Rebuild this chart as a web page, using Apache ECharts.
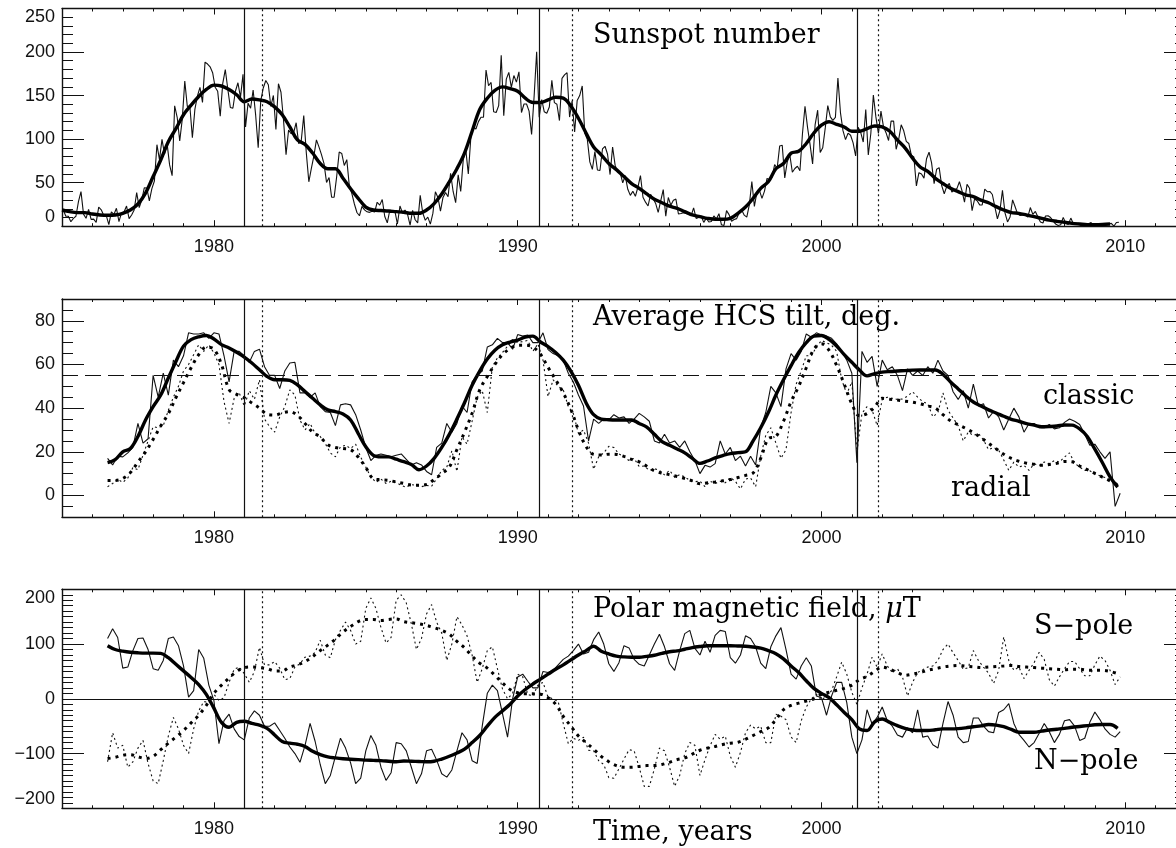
<!DOCTYPE html>
<html>
<head>
<meta charset="utf-8">
<script src="https://cdn.jsdelivr.net/npm/echarts@6.0.0/dist/echarts.min.js"></script>
<style>
html, body { margin: 0; padding: 0; background: #fff; }
#main { width: 1176px; height: 848px; }
</style>
</head>
<body>
<div id="main"></div>
<script>
// monthly sunspot number, Jan 1975 .. Oct 2009
let sunspotMonthly = [
    18.9, 11.5, 11.5, 5.1, 9.0, 11.4, 28.2, 39.7, 13.9, 9.1, 19.4, 7.8,
    8.1, 4.3, 21.9, 18.8, 12.4, 12.2, 1.9, 16.4, 13.5, 20.6, 5.2, 15.3,
    16.4, 23.1, 8.7, 12.9, 18.6, 38.5, 21.4, 30.1, 44.0, 43.8, 29.1, 43.2,
    51.9, 93.6, 76.5, 99.7, 82.7, 95.1, 70.4, 58.1, 138.2, 125.1, 97.9, 122.7,
    166.6, 137.5, 138.0, 101.5, 134.4, 149.5, 159.4, 142.2, 188.4, 186.2, 183.0, 176.3,
    159.6, 155.0, 126.2, 164.1, 179.9, 157.3, 136.3, 135.4, 155.0, 164.7, 147.9, 174.4,
    114.0, 141.3, 135.5, 156.4, 127.5, 90.0, 143.8, 158.7, 167.3, 162.4, 137.5, 150.1,
    111.2, 163.6, 153.8, 122.0, 82.2, 110.4, 106.1, 107.6, 118.8, 94.7, 98.1, 127.0,
    84.3, 51.0, 66.5, 80.7, 99.2, 91.1, 82.2, 71.8, 50.3, 55.8, 33.3, 33.4,
    57.0, 85.1, 83.5, 69.7, 76.4, 46.1, 37.4, 25.5, 15.7, 12.0, 22.8, 18.7,
    16.5, 15.9, 17.2, 16.2, 27.5, 24.2, 30.7, 11.1, 3.9, 18.6, 16.2, 17.3,
    2.5, 23.2, 15.1, 18.5, 13.7, 1.1, 18.1, 7.4, 3.8, 35.4, 15.2, 6.8,
    10.4, 2.4, 14.7, 39.6, 33.0, 17.4, 33.0, 38.7, 33.9, 60.6, 39.9, 27.1,
    59.0, 40.0, 76.2, 88.0, 60.1, 101.8, 113.8, 111.6, 120.1, 125.1, 125.1, 179.2,
    161.3, 165.1, 131.4, 130.6, 138.5, 196.2, 126.9, 168.9, 176.7, 159.4, 173.0, 165.5,
    177.3, 130.5, 140.3, 140.3, 132.2, 105.4, 149.4, 200.3, 125.2, 145.5, 131.4, 129.7,
    136.9, 167.5, 141.9, 140.0, 121.3, 169.7, 173.7, 176.3, 125.3, 144.1, 108.2, 144.4,
    150.0, 161.1, 106.7, 99.8, 73.8, 65.2, 85.7, 64.5, 63.9, 88.7, 91.8, 82.6,
    59.3, 91.0, 69.8, 62.2, 61.3, 49.8, 57.9, 42.4, 35.4, 40.2, 34.3, 45.0,
    58.2, 33.3, 27.6, 23.2, 36.5, 31.9, 26.1, 15.8, 29.2, 42.0, 11.5, 33.0,
    24.2, 29.9, 31.1, 14.0, 14.5, 15.6, 14.5, 14.3, 11.8, 21.1, 9.0, 10.0,
    11.5, 4.4, 9.2, 4.8, 5.5, 11.8, 8.2, 14.4, 1.6, 0.9, 17.9, 13.3,
    5.7, 7.6, 8.7, 15.5, 18.5, 12.7, 10.4, 24.4, 51.3, 22.8, 39.0, 41.2,
    31.9, 40.3, 54.8, 53.4, 56.3, 70.7, 66.6, 92.2, 92.9, 55.5, 74.0, 81.9,
    62.0, 66.3, 68.8, 63.7, 106.4, 137.7, 113.5, 93.7, 71.5, 116.7, 133.2, 84.6,
    90.1, 112.9, 138.5, 125.5, 121.6, 124.9, 170.1, 130.5, 109.7, 99.4, 106.8, 104.4,
    95.6, 80.6, 113.5, 107.7, 96.6, 134.0, 81.8, 106.4, 150.7, 125.5, 106.5, 132.2,
    114.1, 107.4, 98.4, 120.7, 120.8, 88.3, 99.6, 116.4, 109.6, 97.5, 95.0, 81.6,
    79.5, 46.2, 61.5, 60.0, 55.2, 77.4, 85.0, 72.7, 48.8, 65.5, 67.3, 46.5,
    37.3, 45.8, 49.1, 39.3, 41.5, 43.2, 51.1, 40.9, 27.7, 48.0, 43.5, 17.9,
    31.3, 29.2, 24.5, 24.4, 42.6, 39.6, 39.9, 36.4, 22.1, 8.5, 18.0, 41.2,
    15.3, 4.9, 10.6, 30.2, 22.3, 13.9, 12.2, 12.9, 14.4, 10.5, 21.4, 13.6,
    16.9, 10.6, 4.8, 3.7, 11.7, 12.0, 10.0, 6.2, 2.4, 0.9, 1.7, 10.1,
    3.3, 2.1, 9.3, 2.9, 3.2, 3.4, 0.8, 0.5, 1.1, 2.9, 4.1, 0.8,
    1.5, 1.4, 0.7, 1.2, 2.9, 2.9, 3.2, 0.0, 4.2, 4.6
];
// smoothed sunspot number, every quarter from 1975.0
let sunspotSmooth = [
    18.6, 16.7, 15.6, 15.6, 14, 12.9, 12.5, 12.9, 14.8, 18.6, 25.5, 38, 57, 76, 97, 112,
    128, 139, 149, 157, 162, 161, 157, 151, 143, 146, 145, 143, 137, 128, 114, 99,
    94, 84, 72, 66, 66, 55, 43, 32, 22, 18.6, 18, 17.5, 16.7, 16, 14.8, 14.8,
    18.6, 26, 37, 51, 66, 84, 109, 134, 147, 156, 160, 158, 155, 147, 142, 142,
    145, 148, 147, 138, 124, 107, 91, 82, 72, 65, 57, 49, 43.5, 37, 31, 27,
    23, 20.5, 16.7, 12.9, 11, 9, 7.9, 7.9, 9, 14.8, 22, 32, 43.5, 51, 66, 72,
    84, 86, 95, 107, 116, 120, 117, 114, 109, 109, 112, 115, 114, 109, 99, 90,
    78, 68, 63, 55, 49, 43.5, 39.7, 36, 34, 30, 27, 22.5, 18.6, 15.6, 14.8, 12.9,
    11, 9, 7, 5.6, 4.5, 3.3, 2.5, 1.8, 1.8, 2, 2.5
];

// HCS tilt (deg), every two months from 1976.5
let tiltClassic = [
    17, 14, 18, 17.7, 19.5, 22, 33, 24, 26, 55, 45, 56, 46, 62, 59, 64, 74.5, 74, 74, 74.5,
    72, 74.5, 74, 64, 52, 66, 66, 64, 61, 66, 67, 59, 55, 55, 49, 57, 60.7, 61, 47, 47,
    45, 47, 40.7, 38.4, 38, 32, 41.5, 42, 41.5, 37, 30, 22, 16, 18.4, 19, 18.4, 17.7, 18.4,
    19, 16.5, 14, 15, 14, 11, 9.5, 22, 24, 33, 29, 33, 41, 38, 52, 55, 57, 68, 69, 72,
    70, 70, 67, 73.7, 73, 73.5, 70, 70, 74.5, 66.8, 65, 64, 62, 56, 52, 46, 41, 25, 35, 33,
    35, 34.6, 37, 35.5, 36, 33, 35, 37.6, 36, 34, 25, 24, 28, 24, 25, 22, 25, 20, 16, 10,
    13.8, 13, 14.6, 25, 19, 22, 16, 18, 13.5, 18, 14, 31, 38, 50, 47,
    40.7, 58, 65, 62, 66, 74, 72.5, 74.5, 73.5, 73, 72, 69.5, 66, 62, 56, 15, 66, 61, 63.7, 50,
    62, 57.6, 59, 55, 48, 58, 55, 57, 55, 59, 56, 62, 57, 55, 47.5, 44, 48, 40, 51, 41,
    42, 35.5, 38.5, 36, 30, 35, 40, 36, 29, 33, 33, 31, 31, 32.5, 30.5, 31, 33.5, 35, 34, 32.5,
    28, 23, 23.5, 20, 17, 20, -5, 1
];
let tiltRadial = [
    4, 5.5, 7.5, 6, 8, 12.8, 11.8, 18.5, 25, 31.5, 31, 32, 39, 45, 50, 57, 60, 64.5, 69, 66,
    69, 65.3, 60, 43, 33, 44.5, 47, 41, 48, 44, 53, 35, 31.5, 29, 36, 40.7, 48.4, 46, 34.6, 30,
    33, 28.4, 27, 23.8, 19.5, 17.7, 22.3, 23, 21.5, 23.5, 17.5, 13, 8.5, 6, 7.5, 5.5, 6.5, 6,
    4.6, 3.8, 5, 4.6, 4, 4.6, 4.2, 7.7, 11.5, 13, 20.5, 11, 26.9, 23.5, 34, 45, 48, 38, 59, 63,
    65.5, 68.4, 71.4, 70, 70.5, 71, 66, 69.5, 62, 45.3, 53, 50, 48.4, 40.7, 37.5, 28.4, 30, 24, 12, 17.7,
    19.5, 22.5, 22, 19, 17.7, 16, 17, 13.2, 13.5, 11.5, 12.3, 11.5, 9.4, 11.5, 8.4, 9.5, 8.5, 6.9, 6.3, 6.6,
    4, 6.5, 5.5, 6.5, 5.8, 8.2, 6.5, 3, 7.5, 8, 4, 18, 27.5, 31, 24,
    17, 21, 38, 51, 57, 64, 64, 68, 71, 70, 68.8, 66, 53, 46.5, 52, 20, 37.6, 40.7, 39.2, 32,
    44, 45, 44.5, 44, 44.2, 45.5, 47.5, 45, 43, 42, 36, 38, 47, 39, 35.5, 32, 25, 29, 27.5, 28.4,
    25.5, 21, 22, 20.7, 16.3, 11.5, 15.3, 13, 13.8, 11.5, 14.5, 13.8, 15.3, 14.6, 16, 15.3, 17.6, 19.5, 14.8, 13,
    11.5, 11.3, 10, 9, 8.2, 6.9, 5.5, 4.5
];
// smoothed tilts, every quarter from 1976.5
let tiltClassicSmooth = [
    15, 16.4, 20, 21.5, 27, 34.6, 40.7, 46, 53.8, 61.4, 68.4, 71.4, 72.7, 73.3, 71.7, 69.1, 67.6, 65.6, 63.4, 60.7,
    57.6, 54.5, 53, 53, 52.7, 50.7, 47.6, 44.5, 41.5, 39.2, 38.4, 37.3, 34.6, 28.4, 22.3, 18.4, 17.7, 17.7, 16.6,
    15.5, 14.2, 11.8, 13.5, 17, 22, 28, 35, 42.5, 50.5, 57, 62.5, 66.5, 69, 70.3, 71.2, 72.5, 73, 70.3, 68.2,
    65.5, 62, 57, 50.5, 42.5, 37, 35, 34.7, 34.6, 34.6, 34.6, 33, 31.3, 28, 24.7, 23, 21.3, 19.5, 17, 14.7,
    15.8, 17.2, 18.3, 19.2, 19.6, 20, 25, 31, 38, 46,
    53, 59.5, 65.5, 70, 73, 73.3, 71.5, 68.5, 64.5, 61, 57.5, 54.8, 55.8, 56.5, 56.8, 57, 57.2, 57.4, 57.5, 57.5,
    57.5, 55.5, 52, 48.8, 45.6, 42.8, 41, 39.2, 37.8, 36.3, 34.9, 34, 32.9, 32.2, 31.5, 31.6, 31.8, 32.3, 32.2, 30.5,
    27, 21.2, 15, 8.5, 3.8
];
let tiltRadialSmooth = [
    6.9, 6.9, 7.8, 10.5, 15.3, 20, 25.7, 31.8, 37.5, 44.8, 51.7, 58.5, 64.5, 68, 67, 60, 48.5, 46.3, 44.7, 42.4,
    40, 37.2, 36.8, 37.8, 38.4, 36.7, 33, 29, 26.8, 23.2, 22, 21.5, 21, 17.6, 12.8, 7.7, 7.2, 6.9, 6.2,
    5.5, 4.8, 4.7, 5, 7.3, 10, 13, 21, 29, 37.7, 48.4, 54.5, 60, 64.5, 67.3, 68.8, 68.8, 68, 64.7, 58.7,
    53, 47, 39.5, 30, 22.5, 18.8, 18.5, 18.9, 18.8, 17.9, 16.5, 15.4, 13.4, 11.3, 10.2, 9.5, 8.7, 7.8, 6.7, 5.4,
    5.8, 6.2, 6.7, 7.3, 8.2, 9.2, 10.3, 17, 26, 27,
    34, 43, 50, 58.5, 67, 69.5, 66.5, 59.5, 51, 42, 36.5, 37.5, 40.5, 44.5, 44.1, 43.7, 43.2, 42.7, 42, 41,
    40, 37, 34.2, 32.4, 30.7, 28.8, 26.5, 23.9, 21.4, 18.9, 17, 15.7, 14.8, 14.3, 13.8, 14.2, 14.7, 15.6, 15.4, 13.5,
    11.8, 10.1, 8.4, 6.7, 4.8
];

// polar field (microtesla), every two months from 1976.5
let northPole = [
    110, 128, 112, 56, 58, 88, 110, 111, 90, 55, 52, 70, 110, 113, 97, 60, 3, 15, 90, 74,
    25, -3, -82, -40, -28, -55, -69, -75, -35, -22, -30, -50, -50, -44, -58, -72, -88, -100, -116, -85,
    -45, -78, -120, -155, -140, -105, -72, -90, -117, -155, -145, -95, -67, -85, -125, -149, -135, -80,
    -82, -95, -125, -155, -137, -95, -92, -112, -137, -143, -130, -95, -62, -75, -113, -118, -50, 10, 25, 15,
    -27, -70, 0, 40, 45, 32, 20, 20, 50, 48, 52, 62, 72, 78, 88, 100, 82, 85, 108, 122,
    100, 64, 50, 66, 97, 93, 72, 63, 60, 80, 100, 118, 95, 64, 52, 88, 119, 125, 92, 80,
    105, 85, 116, 125, 123, 75, 65, 80, 115, 110, 95, 65, 55, 95, 115,
    130, 90, 45, 36, 60, 75, 60, 5, 2, -30, 5, 30, 30, -7, -70, -100, -75, -20, -46, -34,
    -15, -40, -50, -66, -70, -53, -62, -20, -70, -68, -84, -90, -45, -5, -30, -70, -80, -78, -35, -35,
    -50, -60, -62, -25, -20, -9, -45, -65, -76, -88, -80, -63, -45, -60, -80, -65, -40, -38, -50, -76,
    -72, -43, -24, -38, -55, -65, -70, -60
];
let southPole = [
    -115, -62, -90, -85, -125, -115, -90, -76, -118, -150, -155, -113, -68, -34, -55, -85, -100, -55, -22, -5,
    -7, 8, -3, 2, 30, 54, 58, 46, 30, 50, 94, 62, 62, 68, 56, 35, 37, 58, 64, 76,
    78, 85, 107, 80, 75, 108, 125, 140, 125, 100, 105, 165, 184, 165, 130, 102, 112, 180,
    190, 175, 137, 90, 110, 155, 172, 140, 120, 70, 100, 150, 135, 115, 80, 30, 55, 88, 95, 55,
    18, 0, 10, 45, 40, 8, 5, 25, 30, 3, 0, -5, -45, -82, -72, -76, -70, -94, -95, -113,
    -120, -144, -145, -128, -110, -93, -95, -125, -160, -160, -128, -90, -95, -125, -160, -140, -100, -80, -85, -140,
    -111, -86, -65, -74, -68, -105, -125, -98, -62, -48, -55, -50, -80, -80, -28,
    -32, -38, -70, -80, -40, -15, 0, 8, -2, 5, 15, 40, 67, 45, 12, -10, 20, 45, 76, 58,
    82, 60, 48, 55, 40, 5, 30, 48, 53, 58, 60, 70, 90, 100, 84, 70, 54, 57, 88, 70,
    58, 47, 28, 52, 113, 70, 52, 58, 37, 52, 66, 85, 72, 35, 23, 40, 55, 68, 68, 55,
    42, 42, 62, 78, 70, 52, 26, 40
];
// smoothed polar fields, every quarter from 1976.5
let northSmooth = [
    97, 90, 87, 85, 84, 83.5, 83.5, 83, 75, 63, 51, 39, 26, 8, -17, -43, -52, -43, -41, -45,
    -48, -54, -66, -78, -81, -83, -87, -96, -102, -106, -108, -109.5, -110.5, -111, -112, -112.5, -113, -114, -115,
    -113.5, -114, -114.5, -115, -114, -110, -105, -99, -92, -80, -67, -50, -34, -22, -10, 5, 17, 27, 36, 45,
    54, 62, 71, 80, 88, 96, 87, 82, 78, 76.5, 76, 76, 77.5, 79.5, 83, 86, 87.5, 90.5, 93.5, 95.5,
    97, 97, 97, 97, 96.5, 96, 94.5, 92.5, 88, 82.5,
    73, 60, 48, 33, 19, 10, 2, -11, -25, -38, -55, -58, -42, -37, -43, -49, -54, -57, -58, -58,
    -56.5, -55, -55, -54.5, -53, -51, -49.5, -47, -48, -51, -56, -61, -61, -61, -59, -57, -55.5, -54, -52, -50.5,
    -49, -47.5, -47, -47, -54
];
let southSmooth = [
    -109, -107, -103, -102, -106, -109, -105, -93, -81, -70, -58, -44, -30, -12, 10, 25, 38, 50, 57, 58,
    57, 55, 51, 51, 58, 62, 68, 77, 88, 98, 109, 122, 132, 141, 145, 145, 143, 145, 146,
    141, 139, 137, 134, 130, 125, 118, 105, 93, 78, 65, 56, 43, 29, 17, 11, 9, 9, 8.5, 2,
    -10, -32, -50, -68, -80, -92, -105, -115, -122, -125, -125, -123.5, -122, -122, -120, -116, -111, -108, -101, -94,
    -90, -87, -83.5, -81, -79.5, -74, -67, -60, -53, -38,
    -20, -12, -8, -4, 0, 8, 12, 15.5, 19, 25, 35, 41, 50, 58, 54, 48, 43, 45, 48, 52,
    55, 58, 60, 61, 59.5, 58.5, 57, 58, 59, 60, 61, 59, 58, 57, 56, 55, 54, 53, 54, 54,
    52.5, 52, 52, 50, 46
];

let reversalSolid = [1981.0, 1990.72, 2001.17];
let reversalDotted = [1981.59, 1991.81, 2001.88];
let decadeTicks = [1980, 1990, 2000, 2010];
let yMajor = [[0, 50, 100, 150, 200, 250], [0, 20, 40, 60, 80], [-200, -100, 0, 100, 200]];
let yRange = [[0, 250, 10], [-10, 90, 5], [-200, 200, 10]];

function stamp(values, start, step) {
    return values.map(function (v, i) { return [start + i * step, v]; });
}

// the frame runs past the right edge of the picture (x max 2012 is cropped)
let gridBoxes = [
    {left: 62, top: 8.5, width: 1124, height: 217.7, outerBoundsMode: 'none', containLabel: false},
    {left: 62, top: 299, width: 1124, height: 218.3, outerBoundsMode: 'none', containLabel: false},
    {left: 62, top: 589.3, width: 1124, height: 219, outerBoundsMode: 'none', containLabel: false}
];

let ink = '#111';
let tickFont = {fontFamily: 'Liberation Sans', fontSize: 18, color: ink};

function xAxesFor(g) {
    let base = {type: 'value', gridIndex: g, min: 1975, max: 2012, splitLine: {show: false}};
    let line = {show: true, onZero: false, lineStyle: {color: ink, width: 1.4}};
    return [
        Object.assign({}, base, {position: 'bottom', interval: 1, axisLine: line,
            axisTick: {inside: true, length: 3, lineStyle: {color: ink}},
            axisLabel: Object.assign({margin: 12, formatter: function (v) { return v % 10 === 0 ? String(v) : ''; }}, tickFont)}),
        Object.assign({}, base, {position: 'bottom', axisLine: {show: false, onZero: false},
            axisTick: {inside: true, length: 6, customValues: decadeTicks, lineStyle: {color: ink}},
            axisLabel: {show: false}}),
        Object.assign({}, base, {position: 'top', interval: 1, axisLine: line,
            axisTick: {inside: true, length: 3, lineStyle: {color: ink}}, axisLabel: {show: false}}),
        Object.assign({}, base, {position: 'top', axisLine: {show: false, onZero: false},
            axisTick: {inside: true, length: 6, customValues: decadeTicks, lineStyle: {color: ink}},
            axisLabel: {show: false}})
    ];
}

function yAxesFor(g) {
    let r = yRange[g];
    let base = {type: 'value', gridIndex: g, min: r[0], max: r[1], splitLine: {show: false}};
    let line = {show: true, onZero: false, lineStyle: {color: ink, width: 1.4}};
    let label = Object.assign({
        margin: 7,
        customValues: yMajor[g],
        formatter: function (v) { return v < 0 ? '\u2212' + (-v) : String(v); }
    }, tickFont);
    if (g !== 1) {
        label.verticalAlignMinLabel = 'bottom';
        label.verticalAlignMaxLabel = 'top';
    }
    return [
        Object.assign({}, base, {position: 'left', interval: r[2], axisLine: line,
            axisTick: {inside: true, length: 11, lineStyle: {color: ink}}, axisLabel: {show: false}}),
        Object.assign({}, base, {position: 'left', axisLine: {show: false, onZero: false},
            axisTick: {inside: true, length: 22, customValues: yMajor[g], lineStyle: {color: ink}},
            axisLabel: label}),
        Object.assign({}, base, {position: 'right', interval: r[2], axisLine: line,
            axisTick: {inside: true, length: 11, lineStyle: {color: ink}}, axisLabel: {show: false}}),
        Object.assign({}, base, {position: 'right', axisLine: {show: false, onZero: false},
            axisTick: {inside: true, length: 22, customValues: yMajor[g], lineStyle: {color: ink}},
            axisLabel: {show: false}})
    ];
}

function curve(data, g, width, dash, smooth) {
    return {
        type: 'line', xAxisIndex: 4 * g, yAxisIndex: 4 * g, data: data,
        showSymbol: false, symbol: 'none', smooth: smooth ? 0.35 : false, silent: true,
        lineStyle: {color: smooth ? '#000' : ink, width: width, type: dash || 'solid', cap: 'butt'}
    };
}

function markers(extra) {
    let lines = reversalSolid.map(function (x) { return {xAxis: x, lineStyle: {type: 'solid'}}; })
        .concat(reversalDotted.map(function (x) { return {xAxis: x, lineStyle: {type: [2, 3]}}; }))
        .concat(extra || []);
    return {symbol: ['none', 'none'], silent: true, label: {show: false},
        lineStyle: {color: ink, width: 1.2}, data: lines};
}

let thinDot = [2, 3];
let thickDot = [3, 5];

let s = [];
let p1 = curve(stamp(sunspotMonthly, 1975 + 1 / 24, 1 / 12), 0, 1.1);
p1.markLine = markers();
s.push(p1, curve(stamp(sunspotSmooth, 1975, 0.25), 0, 3.4, null, true));

let p2 = curve(stamp(tiltClassic, 1976.5, 1 / 6), 1, 1.1);
p2.markLine = markers([{yAxis: 55, lineStyle: {type: [16, 7], width: 1.2}}]);
s.push(p2,
    curve(stamp(tiltRadial, 1976.5, 1 / 6), 1, 1.1, thinDot),
    curve(stamp(tiltRadialSmooth, 1976.5, 0.25), 1, 3, thickDot, true),
    curve(stamp(tiltClassicSmooth, 1976.5, 0.25), 1, 3.4, null, true));

let p3 = curve(stamp(northPole, 1976.5, 1 / 6), 2, 1.1);
p3.markLine = markers([{yAxis: 0, lineStyle: {type: 'solid'}}]);
s.push(p3,
    curve(stamp(southPole, 1976.5, 1 / 6), 2, 1.1, thinDot),
    curve(stamp(southSmooth, 1976.5, 0.25), 2, 3, thickDot, true),
    curve(stamp(northSmooth, 1976.5, 0.25), 2, 3.4, null, true));

let serif = '"DejaVu Serif"';
function caption(text, x, y) {
    return {type: 'text', x: x, y: y, silent: true,
        style: {text: text, fontFamily: serif, fontSize: 27, fill: '#000', verticalAlign: 'middle',
            rich: {mu: {fontFamily: serif, fontSize: 27, fontStyle: 'italic', fill: '#000'}}}};
}

let myChart = echarts.init(document.getElementById('main'), null, {renderer: 'canvas'});
myChart.setOption({
    animation: false,
    backgroundColor: '#fff',
    grid: gridBoxes,
    xAxis: [].concat(xAxesFor(0), xAxesFor(1), xAxesFor(2)),
    yAxis: [].concat(yAxesFor(0), yAxesFor(1), yAxesFor(2)),
    series: s,
    graphic: [
        caption('Sunspot number', 593, 36),
        caption('Average HCS tilt, deg.', 593, 318),
        caption('classic', 1043, 397),
        caption('radial', 951, 489),
        caption('Polar magnetic field, {mu|\u03bc}T', 593, 610),
        caption('S\u2212pole', 1034, 627),
        caption('N\u2212pole', 1034, 762),
        caption('Time, years', 593, 833)
    ]
});
</script>
</body>
</html>
